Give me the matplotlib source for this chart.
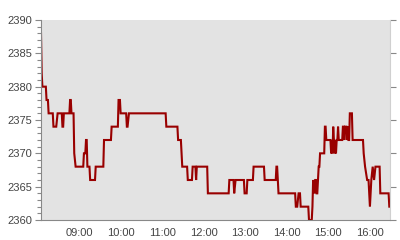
import numpy as np
import pandas as pd
import matplotlib
matplotlib.use("Agg")
import matplotlib.pyplot as plt
import matplotlib.dates as mdates
from matplotlib.ticker import MultipleLocator

# price change points (time, price)
times = [
    "08:05", "08:06", "08:07", "08:12", "08:13", "08:15", "08:16", "08:22",
    "08:23", "08:27", "08:29", "08:35", "08:36", "08:37", "08:38", "08:46",
    "08:47", "08:48", "08:49", "08:52", "08:53", "08:55", "09:06", "09:07",
    "09:09", "09:10", "09:11", "09:12", "09:15", "09:16", "09:23", "09:24",
    "09:35", "09:36", "09:46", "09:47", "09:56", "09:57", "09:59", "10:00",
    "10:08", "10:09", "10:10", "10:12", "11:05", "11:06", "11:22", "11:23",
    "11:27", "11:29", "11:36", "11:37", "11:43", "11:44", "11:48", "11:49",
    "11:50", "12:05", "12:06", "12:36", "12:37", "12:43", "12:44", "12:46",
    "12:58", "12:59", "13:02", "13:03", "13:11", "13:12", "13:27", "13:28",
    "13:44", "13:45", "13:46", "13:48", "14:12", "14:13", "14:15", "14:17",
    "14:19", "14:20", "14:31", "14:32", "14:36", "14:37", "14:38", "14:40",
    "14:41", "14:42", "14:43", "14:44", "14:46", "14:47", "14:48", "14:54",
    "14:55", "14:56", "14:57", "15:03", "15:04", "15:05", "15:06", "15:07",
    "15:08", "15:09", "15:10", "15:11", "15:12", "15:13", "15:14", "15:15",
    "15:20", "15:21", "15:22", "15:23", "15:24", "15:26", "15:27", "15:28",
    "15:29", "15:30", "15:31", "15:34", "15:35", "15:50", "15:51", "15:53",
    "15:56", "15:58", "16:00", "16:02", "16:04", "16:06", "16:08", "16:14",
    "16:15", "16:27", "16:28", "16:29",
]
prices = [
    2388, 2382, 2380, 2380, 2378, 2378, 2376, 2376,
    2374, 2374, 2376, 2376, 2374, 2374, 2376, 2376,
    2378, 2378, 2376, 2376, 2370, 2368, 2368, 2370,
    2370, 2372, 2372, 2368, 2368, 2366, 2366, 2368,
    2368, 2372, 2372, 2374, 2374, 2378, 2378, 2376,
    2376, 2374, 2374, 2376, 2376, 2374, 2374, 2372,
    2372, 2368, 2368, 2366, 2366, 2368, 2368, 2366,
    2368, 2368, 2364, 2364, 2366, 2366, 2364, 2366,
    2366, 2364, 2364, 2366, 2366, 2368, 2368, 2366,
    2366, 2368, 2368, 2364, 2364, 2362, 2362, 2364,
    2364, 2362, 2362, 2360, 2360, 2362, 2366, 2364,
    2366, 2366, 2364, 2364, 2368, 2368, 2370, 2370,
    2374, 2374, 2372, 2372, 2370, 2372, 2370, 2374,
    2372, 2370, 2372, 2370, 2372, 2372, 2374, 2372,
    2372, 2374, 2374, 2372, 2374, 2374, 2372, 2374,
    2372, 2372, 2376, 2376, 2372, 2372, 2370, 2368,
    2366, 2366, 2362, 2366, 2368, 2366, 2368, 2368,
    2364, 2364, 2362, 2362,
]

t = pd.to_datetime(["2020-01-01 " + s for s in times])

fig = plt.figure(figsize=(4, 2.4), dpi=100)
ax = fig.add_axes([41 / 400, 20 / 240, 349 / 400, 200 / 240])
ax.set_facecolor("#e3e3e3")

ax.plot(t, prices, color="#990000", linewidth=1.5, solid_joinstyle="miter")

ax.set_xlim(pd.Timestamp("2020-01-01 08:05"), pd.Timestamp("2020-01-01 16:29"))
ax.set_ylim(2360, 2390)

ax.xaxis.set_major_locator(mdates.HourLocator())
ax.xaxis.set_major_formatter(mdates.DateFormatter("%H:%M"))
ax.yaxis.set_major_locator(MultipleLocator(5))
ax.yaxis.set_minor_locator(MultipleLocator(1))

for s in ["top"]:
    ax.spines[s].set_visible(False)
ax.spines["left"].set_color("#888888")
ax.spines["bottom"].set_color("#888888")
ax.spines["right"].set_color("#d0d0d0")

ax.tick_params(axis="x", length=0, pad=6, labelsize=8, labelcolor="#444444")
ax.tick_params(axis="y", which="major", length=4, width=0.8, color="#888888",
               pad=2, labelsize=8, labelcolor="#444444", right=True)
ax.tick_params(axis="y", which="minor", length=3, width=0.8, color="#888888")
for tk in ax.yaxis.get_major_ticks():
    tk.tick2line.set_color("#d0d0d0")
    tk.tick2line.set_markersize(4)

plt.rcParams["font.family"] = ["Liberation Sans", "DejaVu Sans"]
for lbl in ax.get_xticklabels() + ax.get_yticklabels():
    lbl.set_family(["Liberation Sans", "DejaVu Sans"])

fig.savefig("out.png", dpi=100)
